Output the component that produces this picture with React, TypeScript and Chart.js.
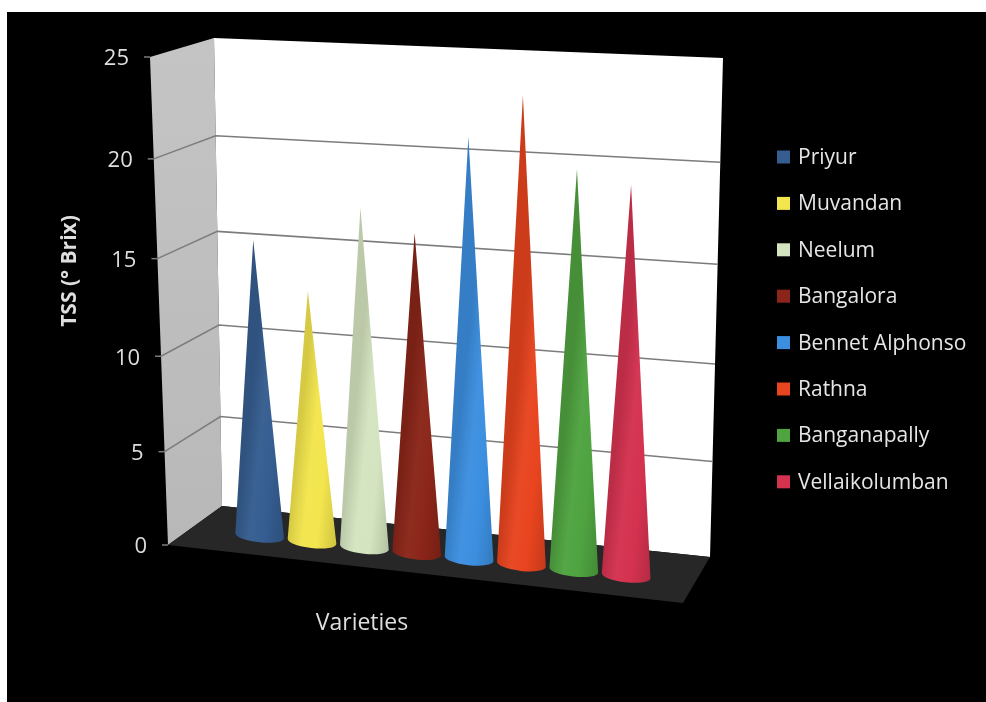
import React, { useEffect, useRef } from 'react';
import { Chart, registerables } from 'chart.js';

Chart.register(...registerables);

// ---- data ----
const categories = ['Varieties'];
const varieties = ['Priyur', 'Muvandan', 'Neelum', 'Bangalora', 'Bennet Alphonso', 'Rathna', 'Banganapally', 'Vellaikolumban'];
const tssValues = [15.6, 13.2, 17.6, 16.5, 21.4, 23.5, 20.1, 19.5];
const coneColors = ['#355d90', '#f3e54d', '#d4e4c0', '#8b2519', '#3c8fe0', '#e8441f', '#4fa340', '#d4324f'];
const yMin = 0;
const yMax = 25;
const yStep = 5;
const yAxisTitle = 'TSS (° Brix)';

// ---- layout / projection (styling) ----
const W = 986;
const H = 702;
type P2 = [number, number];
const FRONT = { lb: [168, 545] as P2, lt: [150, 57] as P2, rb: [683, 603] as P2, rt: [690, 82] as P2 };
const BACK = { lb: [222, 506] as P2, lt: [214, 38] as P2, rb: [710, 557] as P2, rt: [723, 58] as P2 };
const K = 0.055;
const CONE_DEPTH = 0.43;
const FONT = '"Open Sans", "Noto Sans", sans-serif';

function lerp(a: number, b: number, t: number) {
  return a + (b - a) * t;
}
function plane(p: typeof FRONT, u: number, h: number): P2 {
  const lx = lerp(p.lb[0], p.lt[0], h);
  const ly = lerp(p.lb[1], p.lt[1], h);
  const rx = lerp(p.rb[0], p.rt[0], h);
  const ry = lerp(p.rb[1], p.rt[1], h);
  return [lerp(lx, rx, u), lerp(ly, ry, u)];
}
function project(u: number, h: number, d: number): P2 {
  const hw = h * (1 - K) + K * h * h;
  const f = plane(FRONT, u, hw);
  const b = plane(BACK, u, hw);
  return [lerp(f[0], b[0], d), lerp(f[1], b[1], d)];
}
function shade(hex: string, f: number) {
  const n = parseInt(hex.slice(1), 16);
  let r = (n >> 16) & 255;
  let g = (n >> 8) & 255;
  let b = n & 255;
  if (f < 1) {
    r *= f; g *= f; b *= f;
  } else {
    const t = f - 1;
    r += (255 - r) * t; g += (255 - g) * t; b += (255 - b) * t;
  }
  return `rgb(${Math.round(r)},${Math.round(g)},${Math.round(b)})`;
}
function poly(ctx: CanvasRenderingContext2D, pts: P2[]) {
  ctx.beginPath();
  ctx.moveTo(pts[0][0], pts[0][1]);
  for (let i = 1; i < pts.length; i++) ctx.lineTo(pts[i][0], pts[i][1]);
  ctx.closePath();
}

const scenePlugin = {
  id: 'scene3d',
  beforeDraw(chart: any) {
    const ctx: CanvasRenderingContext2D = chart.ctx;
    const ys = chart.scales.y;
    const ca = chart.chartArea;
    const toH = (v: number) => (ca.bottom - ys.getPixelForValue(v)) / (ca.bottom - ca.top);
    ctx.save();
    ctx.fillStyle = '#ffffff';
    ctx.fillRect(0, 0, W, H);
    ctx.fillStyle = '#000000';
    ctx.fillRect(7, 12, W - 7, H - 12);

    // side wall
    const sw: P2[] = [project(0, 0, 0), project(0, 1, 0), project(0, 1, 1), project(0, 0, 1)];
    const g = ctx.createLinearGradient(0, sw[1][1], 0, sw[0][1]);
    g.addColorStop(0, '#c4c4c4');
    g.addColorStop(1, '#b8b8b8');
    poly(ctx, sw);
    ctx.fillStyle = g;
    ctx.fill();

    // back wall
    poly(ctx, [project(0, 0, 1), project(0, 1, 1), project(1, 1, 1), project(1, 0, 1)]);
    ctx.fillStyle = '#ffffff';
    ctx.fill();

    // gridlines
    ctx.lineWidth = 1.5;
    ctx.strokeStyle = '#7c7c7c';
    for (const t of ys.ticks) {
      const v = t.value;
      const h = toH(v);
      const a = project(0, h, 0);
      if (v > yMin && v < yMax) {
        const b = project(0, h, 1);
        const c = project(1, h, 1);
        ctx.beginPath();
        ctx.moveTo(a[0], a[1]);
        ctx.lineTo(b[0], b[1]);
        ctx.lineTo(c[0], c[1]);
        ctx.stroke();
      }
      ctx.beginPath();
      ctx.moveTo(a[0] - 6, a[1]);
      ctx.lineTo(a[0], a[1]);
      ctx.stroke();
    }

    // floor
    poly(ctx, [project(0, 0, 0), project(0, 0, 1), project(1, 0, 1), project(1, 0, 0)]);
    ctx.fillStyle = '#272727';
    ctx.fill();
    ctx.restore();
  },
  beforeDatasetsDraw(chart: any) {
    const ctx: CanvasRenderingContext2D = chart.ctx;
    const ca = chart.chartArea;
    const cw = ca.right - ca.left;
    const chh = ca.bottom - ca.top;
    ctx.save();
    chart.data.datasets.forEach((ds: any, i: number) => {
      const meta = chart.getDatasetMeta(i);
      meta.data.forEach((el: any) => {
        const { x, y, base, width } = el.getProps(['x', 'y', 'base', 'width'], true);
        const u = (x - ca.left) / cw;
        const du = width / 2 / cw;
        const h = (base - y) / chh;
        const T = project(u, h, CONE_DEPTH);
        const L = project(u - du, 0, CONE_DEPTH);
        const R = project(u + du, 0, CONE_DEPTH);
        const cx = (L[0] + R[0]) / 2;
        const cy = (L[1] + R[1]) / 2;
        const rx = Math.hypot(R[0] - L[0], R[1] - L[1]) / 2;
        const ry = rx * 0.27;
        const rot = Math.atan2(R[1] - L[1], R[0] - L[0]);
        const col = ds.backgroundColor as string;
        const gr = ctx.createLinearGradient(L[0], L[1], R[0], R[1]);
        gr.addColorStop(0, shade(col, 0.88));
        gr.addColorStop(0.3, shade(col, 1.03));
        gr.addColorStop(0.6, col);
        gr.addColorStop(1, shade(col, 0.85));
        ctx.beginPath();
        ctx.moveTo(T[0], T[1]);
        ctx.lineTo(L[0], L[1]);
        ctx.ellipse(cx, cy, rx, ry, rot, Math.PI, 0, true);
        ctx.closePath();
        ctx.fillStyle = gr;
        ctx.fill();
      });
    });
    ctx.restore();
    return false;
  },
  afterDraw(chart: any) {
    const ctx: CanvasRenderingContext2D = chart.ctx;
    const ys = chart.scales.y;
    const ca = chart.chartArea;
    const toH = (v: number) => (ca.bottom - ys.getPixelForValue(v)) / (ca.bottom - ca.top);
    ctx.save();
    // tick labels
    ctx.font = `22px ${FONT}`;
    ctx.fillStyle = '#dedede';
    ctx.textAlign = 'right';
    ctx.textBaseline = 'middle';
    for (const t of ys.ticks) {
      const p = project(0, toH(t.value), 0);
      ctx.fillText(String(t.label ?? t.value), p[0] - 21, p[1] + 2);
    }
    // category label
    ctx.textAlign = 'center';
    ctx.font = `23px ${FONT}`;
    const labels = chart.scales.x.getLabels();
    ctx.fillText(String(labels[0]), 362, 623);
    // y axis title
    ctx.save();
    ctx.translate(70, 271);
    ctx.rotate(-Math.PI / 2);
    ctx.font = `bold 21px ${FONT}`;
    ctx.fillText(yAxisTitle, 0, 0);
    ctx.restore();
    // legend
    ctx.textAlign = 'left';
    ctx.font = `21px ${FONT}`;
    chart.data.datasets.forEach((ds: any, i: number) => {
      const yy = 157 + i * 46.4;
      ctx.fillStyle = ds.backgroundColor;
      ctx.fillRect(777, yy - 6.5, 13, 13);
      ctx.fillStyle = '#e6e6e6';
      ctx.fillText(ds.label, 798, yy + 1);
    });
    ctx.restore();
  },
};

export default function App() {
  const ref = useRef<HTMLCanvasElement>(null);
  useEffect(() => {
    if (!ref.current) return;
    const chart = new Chart(ref.current, {
      type: 'bar',
      data: {
        labels: categories,
        datasets: varieties.map((name, i) => ({
          label: name,
          data: [tssValues[i]],
          backgroundColor: coneColors[i],
        })),
      },
      options: {
        responsive: false,
        animation: false,
        events: [],
        layout: { padding: { top: 57, bottom: H - 545, left: 148, right: W - 683 } },
        datasets: { bar: { categoryPercentage: 0.832, barPercentage: 0.93 } },
        plugins: { legend: { display: false }, tooltip: { enabled: false } },
        scales: {
          x: { display: false, offset: true },
          y: {
            min: yMin,
            max: yMax,
            ticks: { stepSize: yStep, display: false },
            grid: { display: false },
            border: { display: false },
            afterFit: (s: any) => {
              s.width = 20;
            },
          },
        },
      } as any,
      plugins: [scenePlugin as any],
    });
    return () => chart.destroy();
  }, []);
  return (
    <canvas
      ref={ref}
      width={W}
      height={H}
      style={{ position: 'fixed', left: 0, top: 0, width: W, height: H, display: 'block' }}
    />
  );
}
